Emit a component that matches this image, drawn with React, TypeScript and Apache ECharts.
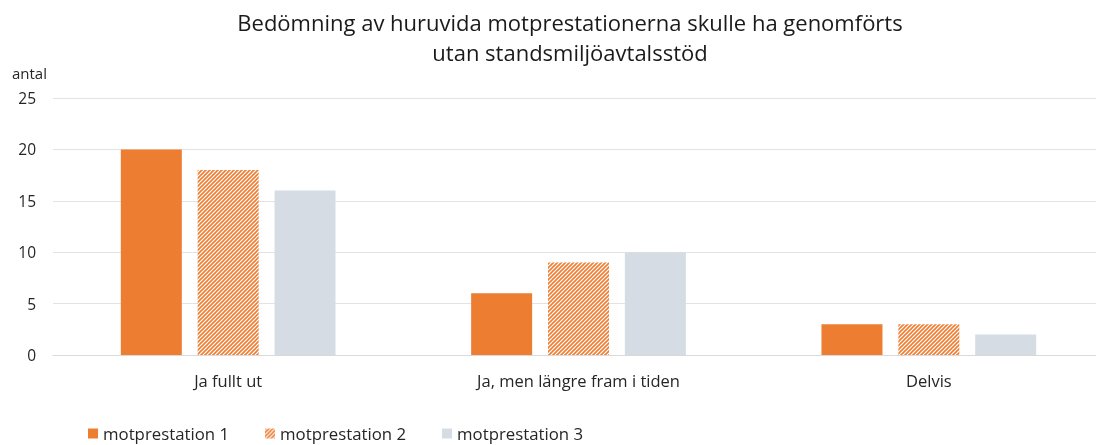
import React, { useEffect, useRef } from "react";
import * as echarts from "echarts";

const categories = ["Ja fullt ut", "Ja, men längre fram i tiden", "Delvis"];
const seriesNames = ["motprestation 1", "motprestation 2", "motprestation 3"];
const values1 = [20, 6, 3];
const values2 = [18, 9, 3];
const values3 = [16, 10, 2];
const yTicks = [0, 5, 10, 15, 20, 25];

const ORANGE = "#ED7D31";
const GREY = "#D6DCE4";

function makeHatch(): HTMLCanvasElement {
  const s = 4;
  const c = document.createElement("canvas");
  c.width = s;
  c.height = s;
  const ctx = c.getContext("2d")!;
  ctx.fillStyle = "#ffffff";
  ctx.fillRect(0, 0, s, s);
  ctx.strokeStyle = ORANGE;
  ctx.lineWidth = 1.6;
  ctx.beginPath();
  ctx.moveTo(-1, 1);
  ctx.lineTo(1, -1);
  ctx.moveTo(0, s);
  ctx.lineTo(s, 0);
  ctx.moveTo(s - 1, s + 1);
  ctx.lineTo(s + 1, s - 1);
  ctx.stroke();
  return c;
}

export default function App() {
  const ref = useRef<HTMLDivElement>(null);
  useEffect(() => {
    if (!ref.current) return;
    const chart = echarts.init(ref.current, null, { renderer: "svg" });
    const hatch = makeHatch();
    const font = "'Open Sans', sans-serif";
    chart.setOption({
      animation: false,
      textStyle: { fontFamily: font },
      title: {
        text: "Bedömning av huruvida motprestationerna skulle ha genomförts\nutan standsmiljöavtalsstöd",
        left: 565,
        top: 2,
        textAlign: "center",
        textStyle: {
          fontSize: 22,
          fontWeight: "normal",
          color: "#1a1a1a",
          lineHeight: 30,
          fontFamily: font,
        },
      },
      legend: {
        left: 83,
        bottom: -2,
        itemWidth: 10,
        itemHeight: 10,
        itemGap: 36,
        icon: "rect",
        textStyle: { fontSize: 16.8, color: "#262626", fontFamily: font },
        data: seriesNames,
      },
      grid: { left: 53, right: 0, top: 98, bottom: 90, containLabel: false },
      xAxis: {
        type: "category",
        data: categories,
        axisLine: { show: true, lineStyle: { color: "#D9D9D9", width: 1 } },
        axisTick: { show: false },
        axisLabel: { fontSize: 16.5, color: "#262626", margin: 17, fontFamily: font },
      },
      yAxis: {
        type: "value",
        min: yTicks[0],
        max: yTicks[yTicks.length - 1],
        interval: 5,
        name: "antal",
        nameLocation: "end",
        nameGap: 18,
        nameTextStyle: { fontSize: 15, color: "#262626", align: "right", padding: [0, 6, 0, 0], fontFamily: font },
        axisLine: { show: false },
        axisTick: { show: false },
        splitLine: { lineStyle: { color: "#E3E3E3", width: 1 } },
        axisLabel: { fontSize: 15.5, color: "#262626", margin: 17, fontFamily: font },
      },
      series: [
        {
          name: seriesNames[0],
          type: "bar",
          data: values1,
          barWidth: 61,
          barGap: "26%",
          itemStyle: { color: ORANGE },
        },
        {
          name: seriesNames[1],
          type: "bar",
          data: values2,
          barWidth: 61,
          barGap: "26%",
          itemStyle: { color: { image: hatch, repeat: "repeat" } as any },
        },
        {
          name: seriesNames[2],
          type: "bar",
          data: values3,
          barWidth: 61,
          barGap: "26%",
          itemStyle: { color: GREY },
        },
      ],
    });
    return () => chart.dispose();
  }, []);
  return (
    <div
      style={{
        position: "fixed",
        left: 0,
        top: 0,
        width: 1096,
        height: 445,
        overflow: "hidden",
      }}
    >
      <div ref={ref} style={{ width: 1104, height: 445 }} />
    </div>
  );
}
